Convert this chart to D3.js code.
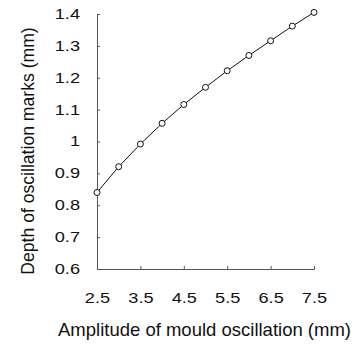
<!DOCTYPE html>
<html>
<script src="https://d3js.org/d3.v7.min.js"></script>
<style>
  body { margin: 0; background: #fff; }
  text { font-family: "Liberation Sans", Arial, sans-serif; fill: #111; }
</style>
<body>
<div id="chart"></div>

<script>
    // amplitude of mould oscillation (mm)
    var amplitude = [2.5, 3, 3.5, 4, 4.5, 5, 5.5, 6, 6.5, 7, 7.5];
    // depth of oscillation marks (mm)
    var depth = [0.84, 0.921, 0.992, 1.057, 1.116, 1.170, 1.222, 1.270, 1.316, 1.362, 1.405];

    var xTicks = [2.5, 3.5, 4.5, 5.5, 6.5, 7.5];
    var yTicks = [0.6, 0.7, 0.8, 0.9, 1, 1.1, 1.2, 1.3, 1.4];

    var svg = d3.select("#chart")
        .append("svg")
        .attr("width", 358)
        .attr("height", 344);

    var x = d3.scaleLinear().domain([2.5, 7.5]).range([97, 314]);
    var y = d3.scaleLinear().domain([0.6, 1.4]).range([269, 14]);

    // tick labels in the scan are a little wide, so stretch them
    var stretch = 1.3;

    // y axis, ticks point inwards
    var yAxis = svg.append("g")
        .attr("transform", "translate(97,0)")
        .call(d3.axisRight(y).tickValues(yTicks).tickSize(3).tickFormat(d3.format("")));
    yAxis.select(".domain").attr("stroke", "#555");
    yAxis.selectAll(".tick line").attr("stroke", "#555");
    yAxis.selectAll(".tick text")
        .attr("x", -17 / stretch)
        .attr("text-anchor", "end")
        .attr("transform", "scale(" + stretch + ",1)")
        .style("font-size", "14px");

    // x axis, ticks point up
    var xAxis = svg.append("g")
        .attr("transform", "translate(0,269)")
        .call(d3.axisTop(x).tickValues(xTicks).tickSize(3).tickFormat(d3.format("")));
    xAxis.select(".domain").attr("stroke", "#555");
    xAxis.selectAll(".tick line").attr("stroke", "#555");
    xAxis.selectAll(".tick text")
        .attr("y", 34)
        .attr("dy", 0)
        .attr("transform", "scale(" + stretch + ",1)")
        .style("font-size", "14px");

    var line = d3.line()
        .x(function (d, i) { return x(amplitude[i]); })
        .y(function (d) { return y(d); });

    svg.append("path")
        .datum(depth)
        .attr("d", line)
        .attr("fill", "none")
        .attr("stroke", "#111")
        .attr("stroke-width", 1);

    svg.selectAll("circle.pt")
        .data(depth)
        .enter()
        .append("circle")
        .attr("class", "pt")
        .attr("cx", function (d, i) { return x(amplitude[i]); })
        .attr("cy", function (d) { return y(d); })
        .attr("r", 3)
        .attr("fill", "#fff")
        .attr("stroke", "#111")
        .attr("stroke-width", 1);

    svg.append("text")
        .attr("x", 204.5)
        .attr("y", 336)
        .attr("text-anchor", "middle")
        .style("font-size", "18.5px")
        .text("Amplitude of mould oscillation (mm)");

    svg.append("text")
        .attr("transform", "translate(34,151) rotate(-90)")
        .attr("text-anchor", "middle")
        .style("font-size", "17.6px")
        .text("Depth of oscillation marks (mm)");
</script>

</body>
</html>
